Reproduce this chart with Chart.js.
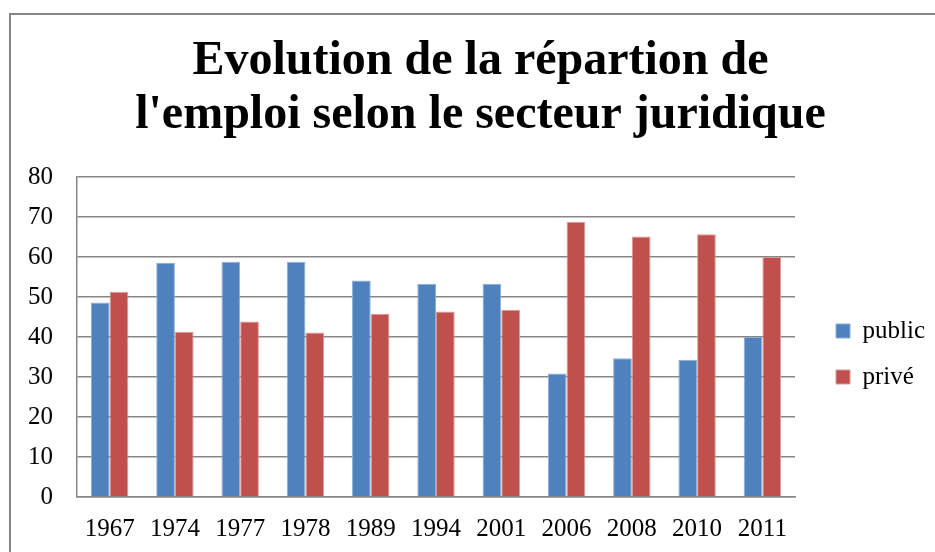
<!DOCTYPE html>
<html>
<head>
<meta charset="utf-8">
<script src="https://cdn.jsdelivr.net/npm/chart.js@4"></script>
<style>
  html, body { margin: 0; padding: 0; background: #fff; overflow: hidden; }
  #wrap { position: relative; width: 935px; height: 552px; }
  #frame { position: absolute; left: 9px; top: 13px; width: 1000px; height: 1000px;
           border-left: 2px solid #868686; border-top: 2px solid #868686; }
  #chart { position: absolute; left: 0; top: 0; }
</style>
</head>
<body>
<div id="wrap">
  <div id="frame"></div>
  <canvas id="chart" width="935" height="552"></canvas>
</div>
<script>
// Années (axe des abscisses)
const years = ['1967', '1974', '1977', '1978', '1989', '1994', '2001', '2006', '2008', '2010', '2011'];
// Part de l'emploi (%) par secteur
const publicValues = [48.6, 58.5, 58.8, 58.8, 54.1, 53.3, 53.3, 30.9, 34.7, 34.3, 40.0];
const priveValues = [51.3, 41.3, 43.9, 41.1, 45.8, 46.4, 46.8, 68.8, 65.1, 65.7, 60.0];
const seriesNames = ['public', 'privé'];
const titleLines = ['Evolution de la répartion de', "l'emploi selon le secteur juridique"];

const serif = "'Liberation Serif', 'Times New Roman', serif";
const gridColor = '#878787';

const ctx = document.getElementById('chart').getContext('2d');
const chart = new Chart(ctx, {
  type: 'bar',
  data: {
    labels: years,
    datasets: [{
      label: seriesNames[0],
      data: publicValues,
      backgroundColor: '#4F81BD',
      borderColor: '#8DAED6',
      borderWidth: 1
    }, {
      label: seriesNames[1],
      data: priveValues,
      backgroundColor: '#C0504D',
      borderColor: '#DB9A98',
      borderWidth: 1
    }]
  },
  options: {
    responsive: false,
    animation: false,
    layout: { padding: { left: 26, right: 0, top: 0, bottom: 8 } },
    datasets: {
      bar: { categoryPercentage: 0.573, barPercentage: 1 }
    },
    scales: {
      x: {
        grid: { display: false, drawTicks: false },
        border: { display: true, color: gridColor, width: 1.5 },
        ticks: { color: '#000', padding: 17, font: { family: serif, size: 25 } },
        afterFit: function(scale) { scale.height = 47; }
      },
      y: {
        min: 0,
        max: 80,
        ticks: { stepSize: 10, color: '#000', padding: 24, font: { family: serif, size: 25 } },
        grid: { color: gridColor, lineWidth: 1.5, drawTicks: false },
        border: { display: true, color: gridColor, width: 1.5 },
        afterFit: function(scale) { scale.width = 51; }
      },
      // espace entre la zone du graphique et la légende
      gap: {
        type: 'linear',
        position: 'right',
        display: true,
        grid: { display: false, drawTicks: false },
        border: { display: false },
        ticks: { display: false },
        afterFit: function(scale) { scale.width = 20; }
      }
    },
    plugins: {
      title: {
        display: true,
        text: titleLines,
        color: '#000',
        font: { family: serif, size: 48, weight: 'bold', lineHeight: 1.125 },
        padding: { top: 35, bottom: 34 }
      },
      legend: {
        position: 'right',
        fullSize: false,
        title: { display: true, text: ' ', padding: 5, font: { size: 20 } },
        labels: {
          color: '#000',
          boxWidth: 14,
          boxHeight: 14,
          padding: 21,
          font: { family: serif, size: 25 }
        }
      },
      tooltip: { enabled: false }
    }
  }
});
</script>
</body>
</html>
